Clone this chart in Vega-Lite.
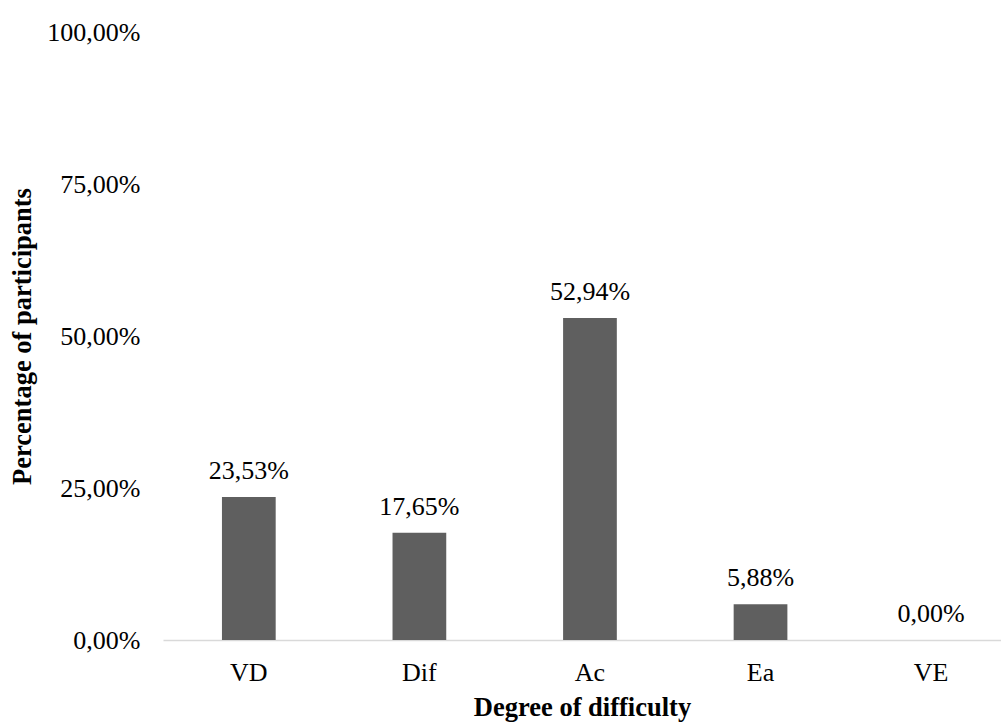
{
  "$schema": "https://vega.github.io/schema/vega-lite/v6.json",
  "width": 838,
  "height": 608,
  "autosize": {"type": "none"},
  "padding": {"left": 163, "top": 32, "right": 0, "bottom": 82},
  "background": "white",
  "config": {
    "view": {"stroke": null},
    "locale": {"number": {"decimal": ",", "thousands": ".", "grouping": [3], "currency": ["", "€"]}},
    "font": "Liberation Serif"
  },
  "data": {
    "values": [
      {"degree": "VD", "pct": 0.2353},
      {"degree": "Dif", "pct": 0.1765},
      {"degree": "Ac", "pct": 0.5294},
      {"degree": "Ea", "pct": 0.0588},
      {"degree": "VE", "pct": 0.0}
    ]
  },
  "encoding": {
    "x": {
      "field": "degree",
      "type": "nominal",
      "sort": null,
      "scale": {"paddingInner": 0.685, "paddingOuter": 0.299, "align": 0.578},
      "axis": {
        "title": "Degree of difficulty",
        "titleFont": "Liberation Serif",
        "titleFontSize": 26.5,
        "titleFontWeight": "bold",
        "titleColor": "black",
        "titlePadding": 9,
        "labelAngle": 0,
        "labelFont": "Liberation Serif",
        "labelFontSize": 26,
        "labelColor": "black",
        "labelPadding": 19,
        "ticks": false,
        "domainColor": "#d9d9d9",
        "domainWidth": 1.5,
        "grid": false
      }
    },
    "y": {
      "field": "pct",
      "type": "quantitative",
      "scale": {"domain": [0, 1], "nice": false},
      "axis": {
        "title": "Percentage of participants",
        "titleFont": "Liberation Serif",
        "titleFontSize": 26.5,
        "titleFontWeight": "bold",
        "titleColor": "black",
        "titlePadding": 10,
        "values": [0, 0.25, 0.5, 0.75, 1],
        "format": ".2%",
        "labelFont": "Liberation Serif",
        "labelFontSize": 26,
        "labelColor": "black",
        "labelPadding": 23,
        "ticks": false,
        "domain": false,
        "grid": false
      }
    }
  },
  "layer": [
    {
      "mark": {"type": "bar", "color": "#5f5f5f"}
    },
    {
      "mark": {"type": "text", "baseline": "alphabetic", "dy": -18, "fontSize": 26, "font": "Liberation Serif", "color": "black"},
      "encoding": {
        "text": {"field": "pct", "type": "quantitative", "format": ".2%"}
      }
    }
  ]
}
